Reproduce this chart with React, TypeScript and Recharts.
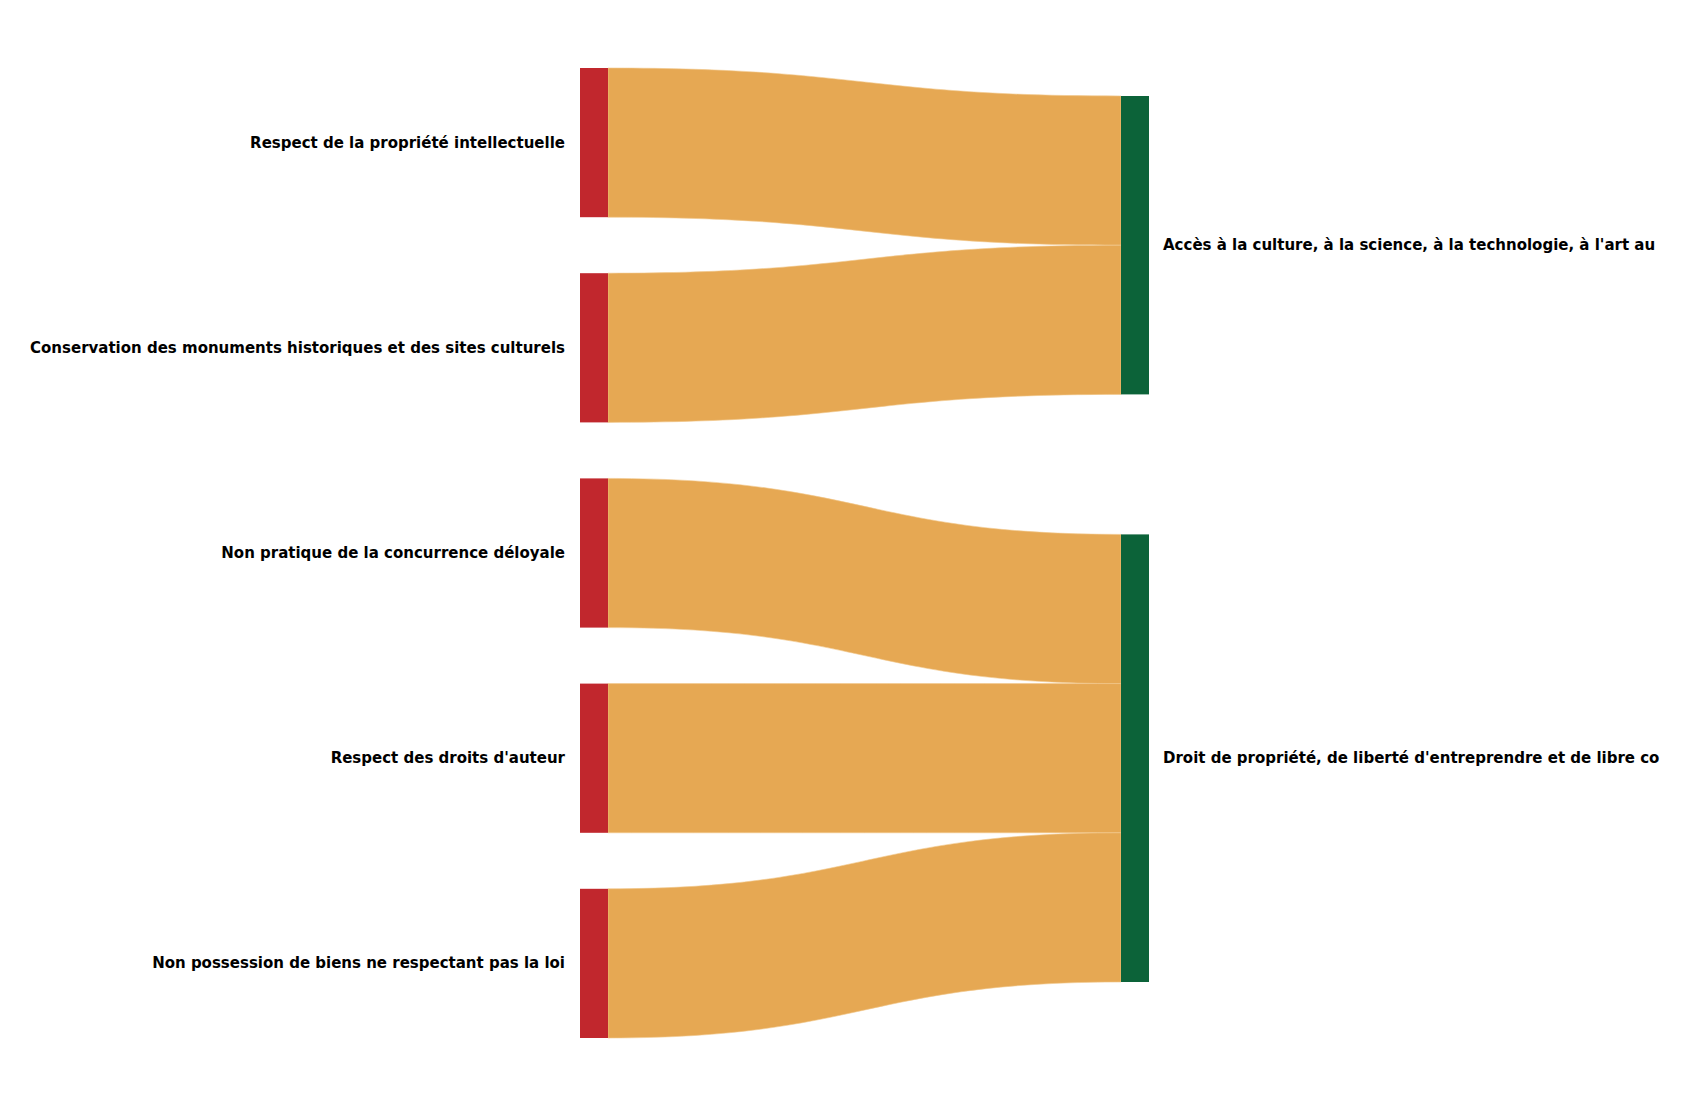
import { Sankey } from "recharts";

const sources = [
  "Respect de la propriété intellectuelle",
  "Conservation des monuments historiques et des sites culturels",
  "Non pratique de la concurrence déloyale",
  "Respect des droits d'auteur",
  "Non possession de biens ne respectant pas la loi",
];

const targets = [
  "Accès à la culture, à la science, à la technologie, à l'art au service de l'intérêt général",
  "Droit de propriété, de liberté d'entreprendre et de libre concurrence",
];

// which target each source flows into, and the flow value
const linkTarget = [0, 0, 1, 1, 1];
const linkValue = [1, 1, 1, 1, 1];

const nodes = [...sources, ...targets].map((name) => ({ name }));
const links = sources.map((_, i) => ({
  source: i,
  target: sources.length + linkTarget[i],
  value: linkValue[i],
}));

const RED = "#c1272d";
const GREEN = "#0c6339";
const ORANGE = "#e6a853";
const FONT = "'DejaVu Sans', Verdana, sans-serif";

function NodeShape(props: any) {
  const { x, y, width, height, payload } = props;
  const isLeft = payload.depth === 0;
  return (
    <g>
      <rect x={x} y={y} width={width} height={height} fill={isLeft ? RED : GREEN} />
      <text
        x={isLeft ? x - 15 : x + width + 14}
        y={y + height / 2}
        textAnchor={isLeft ? "end" : "start"}
        dominantBaseline="central"
        fontFamily={FONT}
        fontWeight="bold"
        fontSize={15}
        fill="#000"
      >
        {payload.name}
      </text>
    </g>
  );
}

function LinkShape(props: any) {
  const { sourceX, targetX, sourceY, targetY, sourceControlX, targetControlX, linkWidth } = props;
  const h = linkWidth / 2;
  const d =
    `M${sourceX},${sourceY - h} ` +
    `C${sourceControlX},${sourceY - h} ${targetControlX},${targetY - h} ${targetX},${targetY - h} ` +
    `L${targetX},${targetY + h} ` +
    `C${targetControlX},${targetY + h} ${sourceControlX},${sourceY + h} ${sourceX},${sourceY + h} Z`;
  return <path d={d} fill={ORANGE} stroke="#f2c88c" strokeWidth={0.6} />;
}

export default function App() {
  return (
    <div style={{ width: 1652, height: 1100, background: "#fff" }}>
      <Sankey
        width={1652}
        height={1100}
        data={{ nodes, links }}
        nodeWidth={28}
        nodePadding={56}
        linkCurvature={0.5}
        iterations={64}
        sort={false}
        margin={{ top: 60, left: 572, right: 511, bottom: 70 }}
        node={(p: any) => <NodeShape {...p} />}
        link={(p: any) => <LinkShape {...p} />}
      />
    </div>
  );
}
